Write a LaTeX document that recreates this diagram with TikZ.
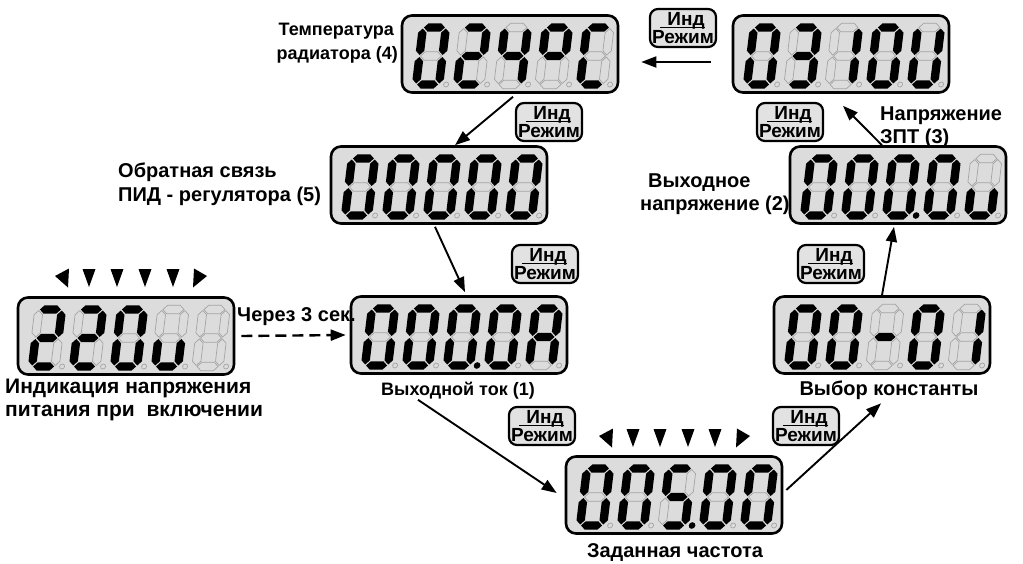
\documentclass[tikz,border=0pt]{standalone}
\usepackage{fontspec}
\setmainfont{Liberation Sans}
\usetikzlibrary{arrows.meta,calc}
\definecolor{lcdbg}{HTML}{DCDCDC}
\definecolor{segoffc}{HTML}{A4A4A4}
\definecolor{btnbg}{HTML}{E2E2E2}
\tikzset{
  lcd/.style={draw=black, line width=2.6pt, rounded corners=10pt, fill=lcdbg,
    minimum width=216pt, minimum height=77pt, inner sep=0pt},
  segon/.style={fill=black},
  segoff/.style={draw=segoffc, line width=0.7pt, fill=lcdbg},
  btn/.style={draw=black, line width=2.2pt, rounded corners=8pt, fill=btnbg,
    minimum width=66pt, minimum height=38pt, inner sep=0pt},
  btntxt/.style={font=\bfseries\fontsize{19}{21}\selectfont, inner sep=0pt},
  lbl/.style={font=\bfseries\fontsize{20}{24}\selectfont, inner sep=0pt},
  lblbig/.style={font=\bfseries\fontsize{21}{25}\selectfont, inner sep=0pt},
  lblcond/.style={font=\bfseries\fontsize{18}{22}\selectfont, inner sep=0pt},
  arr/.style={line width=1.9pt, -{Triangle[length=15pt,width=11pt]}},
  tri/.style={fill=black},
}
\def\sa{11.5}\def\sh{28.5}\def\st{4.2}\def\sg{1.0}
\newcommand\segsty[1]{\ifnum#1=1 \tikzset{cur/.style=segon}\else\tikzset{cur/.style=segoff}\fi}
\newcommand\hseg[2]{\segsty{#1}%
  \path[cur] (-\sa+\sg,#2) -- (-\sa+\sg+\st,#2+\st) -- (\sa-\sg-\st,#2+\st) -- (\sa-\sg,#2)
   -- (\sa-\sg-\st,#2-\st) -- (-\sa+\sg+\st,#2-\st) -- cycle;}
\newcommand\vseg[4]{\segsty{#1}%
  \path[cur] (#2,#3+\sg) -- (#2+\st,#3+\sg+\st) -- (#2+\st,#4-\sg-\st) -- (#2,#4-\sg)
   -- (#2-\st,#4-\sg-\st) -- (#2-\st,#3+\sg+\st) -- cycle;}
\def\dodig#1#2#3#4#5#6#7#8\relax{%
  \hseg{#1}{\sh}%
  \vseg{#2}{\sa}{0}{\sh}%
  \vseg{#3}{\sa}{-\sh}{0}%
  \hseg{#4}{-\sh}%
  \vseg{#5}{-\sa}{-\sh}{0}%
  \vseg{#6}{-\sa}{0}{\sh}%
  \hseg{#7}{0}%
  \ifnum#8=1 \fill (18.5,-\sh) circle (3.3);\else \filldraw[segoff] (18.5,-\sh) circle (2.5);\fi}
\newcommand\sevdig[3]{%
  \begin{scope}[shift={(#1,#2)},x=1pt,y=1pt,xslant=0.12]
  \dodig#3\relax
  \end{scope}}
\newcommand\lcdisp[8]{%
  \node[lcd] (#1) at (#2,#3) {};
  \sevdig{#2-79}{#3+2}{#4}%
  \sevdig{#2-38}{#3+2}{#5}%
  \sevdig{#2+3}{#3+2}{#6}%
  \sevdig{#2+44}{#3+2}{#7}%
  \sevdig{#2+85}{#3+2}{#8}}
\newcommand\indbtn[3]{%
  \node[btn] (#1) at (#2,#3) {};
  \node[btntxt, anchor=base] (#1i) at (#2+3,#3-3) {Инд};
  \node[btntxt, anchor=base] (#1r) at (#2,#3+15) {Режим};
  \draw[line width=1.4pt] ([xshift=-7pt,yshift=-2.5pt]#1i.base west) -- ([yshift=-2.5pt]#1i.base east);}
\newcommand\tridown[3]{\fill[tri] (#2-6.5,#3-9) -- (#2+6.5,#3-9) -- (#2,#3+9) -- cycle;}
\newcommand\trileft[3]{\fill[tri] (#2+6,#3-9.5) -- (#2+5,#3+9.5) -- (#2-8,#3-2) -- cycle;}
\newcommand\triright[3]{\fill[tri] (#2-6,#3-9.5) -- (#2-7,#3+9.5) -- (#2+7,#3-2) -- cycle;}
\begin{document}
\begin{tikzpicture}[x=1pt,y=-1pt]
\useasboundingbox (0,0) rectangle (1023,563);
\fill[white] (0,0) rectangle (1023,563);
% displays: a b c d e f g p
\lcdisp{d0}{126}{336}{11011010}{11011010}{11111100}{00111000}{00000000}
\lcdisp{d1}{459}{335}{11111100}{11111100}{11111101}{11111100}{11101110}
\lcdisp{d5}{439}{185}{11111100}{11111100}{11111100}{11111100}{11111100}
\lcdisp{d4}{510}{54}{11111100}{11011010}{01100110}{11000110}{10011100}
\lcdisp{d3}{841}{54}{11111100}{11110010}{01100000}{11111100}{01111100}
\lcdisp{d2}{898}{185}{11111100}{11111100}{11111101}{11111100}{00111000}
\lcdisp{d6}{882}{335}{11111100}{11111100}{00000010}{11111100}{01100000}
\lcdisp{d7}{674}{495}{11111100}{11111100}{10110111}{11111100}{11111100}
% buttons
\indbtn{b34}{683}{28}
\indbtn{b45}{549}{122}
\indbtn{b23}{790}{122}
\indbtn{b51}{545}{264}
\indbtn{b62}{831}{264}
\indbtn{b17}{542}{426}
\indbtn{b76}{806}{426}
% indicator triangles
\trileft{t01}{63}{278}\tridown{t02}{89}{278}\tridown{t03}{117}{278}
\tridown{t04}{145}{278}\tridown{t05}{173}{278}\triright{t06}{200}{278}
\trileft{t71}{607}{438}\tridown{t72}{633}{438}\tridown{t73}{660}{438}
\tridown{t74}{688}{438}\tridown{t75}{715}{438}\triright{t76}{743}{438}
% labels
\node[lblcond, anchor=base east] (l4a) at (394,35) {Температура};
\node[lblcond, anchor=base east] (l4b) at (398,59) {радиатора (4)};
\node[lbl, anchor=base west] (l5a) at (118,177) {Обратная связь};
\node[lbl, anchor=base west] (l5b) at (118,201) {ПИД - регулятора (5)};
\node[lbl, anchor=base west] (l2a) at (648,187) {Выходное};
\node[lbl, anchor=base west] (l2b) at (640,210) {напряжение (2)};
\node[lbl, anchor=base west] (l3a) at (880,120) {Напряжение};
\node[lbl, anchor=base west] (l3b) at (880,143) {ЗПТ (3)};
\node[lblbig, anchor=base west] (l0a) at (5,393) {Индикация напряжения};
\node[lblbig, anchor=base west] (l0b) at (5,416) {питания при\ \ включении};
\node[lbl, anchor=base west] (lt) at (237,321) {Через 3 сек.};
\node[lblcond, anchor=base] (l1) at (458,395) {Выходной ток (1)};
\node[lbl, anchor=base] (l6) at (889,395) {Выбор константы};
\node[lbl, anchor=base] (l7) at (675,557) {Заданная частота};
% connectors
\draw[arr, line width=2.4pt, dash pattern=on 11pt off 6pt] ([xshift=6pt]d0.east) -- ([xshift=-4pt]d1.west);
\draw[arr] ([shift={(-41,25)}]d1.south) -- ([shift={(-8,-2)}]d7.west);
\draw[arr] ([shift={(3,-5)}]d7.east) -- ([shift={(-8,4)}]l6.south);
\draw[arr] (d6.north) -- ([shift={(-4,2)}]d2.south);
\draw[arr] ([shift={(-16,0)}]d2.north) -- ([shift={(2,12)}]d3.south);
\draw[arr] ([shift={(-21,8)}]d3.west) -- ([shift={(22,8)}]d4.east);
\draw[arr] ([shift={(3,3)}]d4.south) -- ([shift={(16,0)}]d5.north);
\draw[arr] ([shift={(-4,2)}]d5.south) -- ([shift={(6,-3)}]d1.north);
\end{tikzpicture}
\end{document}
